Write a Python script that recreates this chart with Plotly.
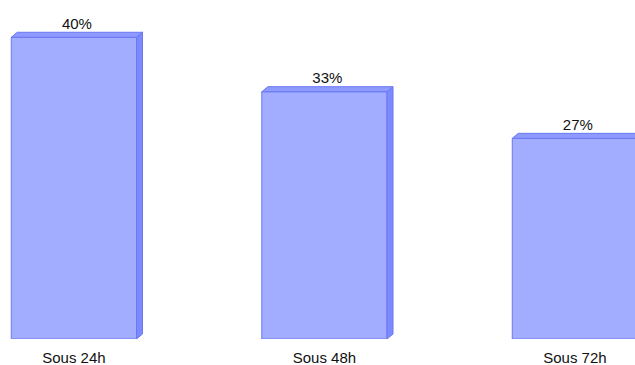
import plotly.graph_objects as go

categories = ["Sous 24h", "Sous 48h", "Sous 72h"]
values = [40, 33, 27]
labels = ["40%", "33%", "27%"]

W = 0.5      # bar width (category units)
DX = 0.024   # 3D depth, x
DY = 0.65    # 3D depth, y
BASE = 1.2

front = "#a3adff"
top_c = "#8e9aff"
side_c = "#7d8aff"
edge = "#6a78f2"

xs = list(range(len(categories)))
fig = go.Figure()
fig.add_trace(go.Bar(x=xs, y=[v - BASE for v in values], base=BASE, width=W,
                     marker=dict(color=front, line=dict(color=edge, width=1)),
                     hoverinfo="skip"))
for x, v in zip(xs, values):
    r = x + W / 2
    l = x - W / 2
    fig.add_trace(go.Scatter(x=[r, r + DX, r + DX, r, r], y=[BASE, BASE + DY, v + DY, v, BASE],
                             fill="toself", fillcolor=side_c, mode="lines",
                             line=dict(color=edge, width=1), hoverinfo="skip"))
    fig.add_trace(go.Scatter(x=[l, l + DX, r + DX, r, l], y=[v, v + DY, v + DY, v, v],
                             fill="toself", fillcolor=top_c, mode="lines",
                             line=dict(color=edge, width=1), hoverinfo="skip"))
fig.add_trace(go.Scatter(x=[x + DX / 2 for x in xs], y=[v + DY for v in values], text=labels,
                         mode="text", textposition="top center",
                         textfont=dict(family="Liberation Sans, Arial", size=15, color="#111"),
                         cliponaxis=False, hoverinfo="skip"))

fig.update_layout(
    width=635, height=365, margin=dict(l=0, r=0, t=0, b=26),
    plot_bgcolor="white", paper_bgcolor="white", showlegend=False,
    xaxis=dict(range=[-0.295, 2.24], tickvals=xs, ticktext=categories, showgrid=False,
               zeroline=False, showline=False, ticks="", ticklabelstandoff=8, automargin=False,
               tickfont=dict(family="Liberation Sans, Arial", size=15, color="#111")),
    yaxis=dict(range=[BASE, 44.8], visible=False, showgrid=False, zeroline=False, automargin=False),
)
fig.write_html("out.html")
